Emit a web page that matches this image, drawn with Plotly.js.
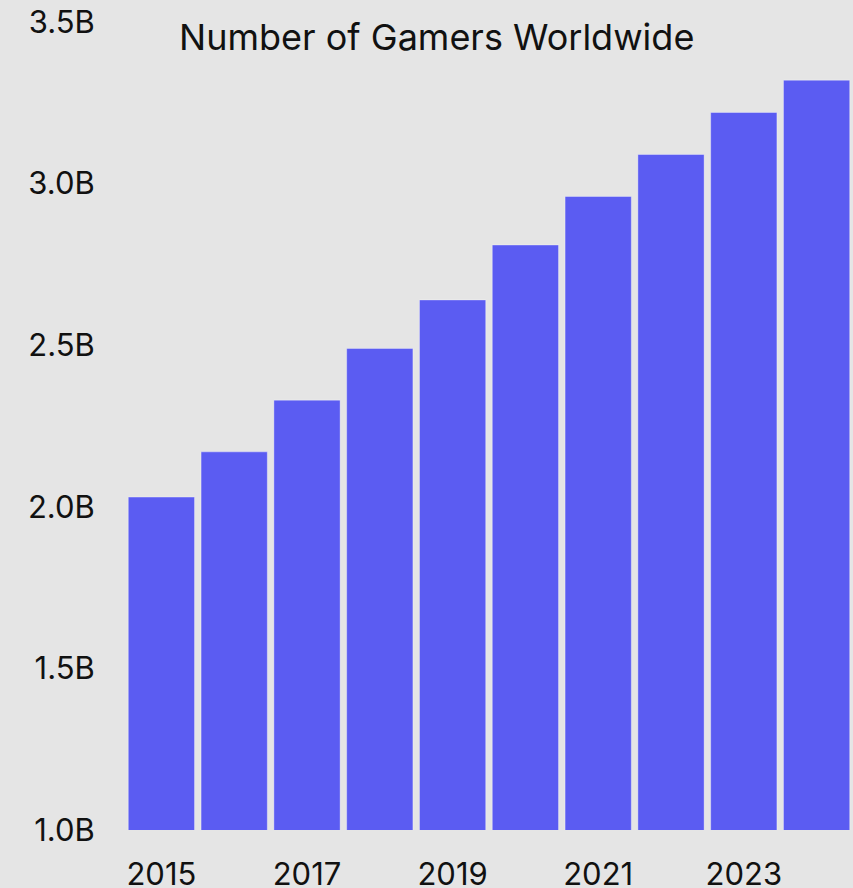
<!DOCTYPE html>
<html>
<head>
<meta charset="utf-8">
<script src="https://cdn.plot.ly/plotly-3.0.1.min.js"></script>
<style>html,body{margin:0;padding:0;background:#e5e5e5;}#chart{width:853px;height:888px;}</style>
</head>
<body>
<div id="chart"></div>
<script>
const years = [2015, 2016, 2017, 2018, 2019, 2020, 2021, 2022, 2023, 2024];
const gamersBillions = [2.03, 2.17, 2.33, 2.49, 2.64, 2.81, 2.96, 3.09, 3.22, 3.32];
const yTickVals = [1.0, 1.5, 2.0, 2.5, 3.0, 3.5];
const yTickText = ["1.0B", "1.5B", "2.0B", "2.5B", "3.0B", "3.5B"];
const xTickVals = [2015, 2017, 2019, 2021, 2023];
const xTickText = ["2015", "2017", "2019", "2021", "2023"];
const titleText = "Number of Gamers Worldwide";

const trace = {
  type: "bar",
  x: years,
  y: gamersBillions,
  marker: { color: "#5b5cf2", line: { color: "rgba(255,255,255,0.35)", width: 1 } },
  hoverinfo: "x+y"
};

const layout = {
  width: 853,
  height: 888,
  paper_bgcolor: "#e5e5e5",
  plot_bgcolor: "#e5e5e5",
  margin: { l: 125, r: 0, t: 22, b: 58, pad: 0 },
  bargap: 0.09,
  font: { family: "Inter, 'Noto Sans', sans-serif", color: "#111111", size: 32 },
  title: {
    text: titleText,
    x: 0.512, xanchor: "center", xref: "container",
    y: 0.958, yanchor: "middle", yref: "container",
    font: { size: 36, color: "#111111" }
  },
  xaxis: {
    range: [2014.5, 2024.5],
    tickmode: "array",
    tickvals: xTickVals,
    ticktext: xTickText,
    showgrid: false, zeroline: false, showline: false,
    ticks: "outside", ticklen: 17, tickcolor: "rgba(0,0,0,0)",
    tickfont: { size: 31 }
  },
  yaxis: {
    range: [1.0, 3.5],
    tickmode: "array",
    tickvals: yTickVals,
    ticktext: yTickText,
    showgrid: false, zeroline: false, showline: false,
    ticks: "outside", ticklen: 23, tickcolor: "rgba(0,0,0,0)",
    tickfont: { size: 31 }
  },
  showlegend: false
};

Plotly.newPlot("chart", [trace], layout, { displayModeBar: false, staticPlot: true });
</script>
</body>
</html>
